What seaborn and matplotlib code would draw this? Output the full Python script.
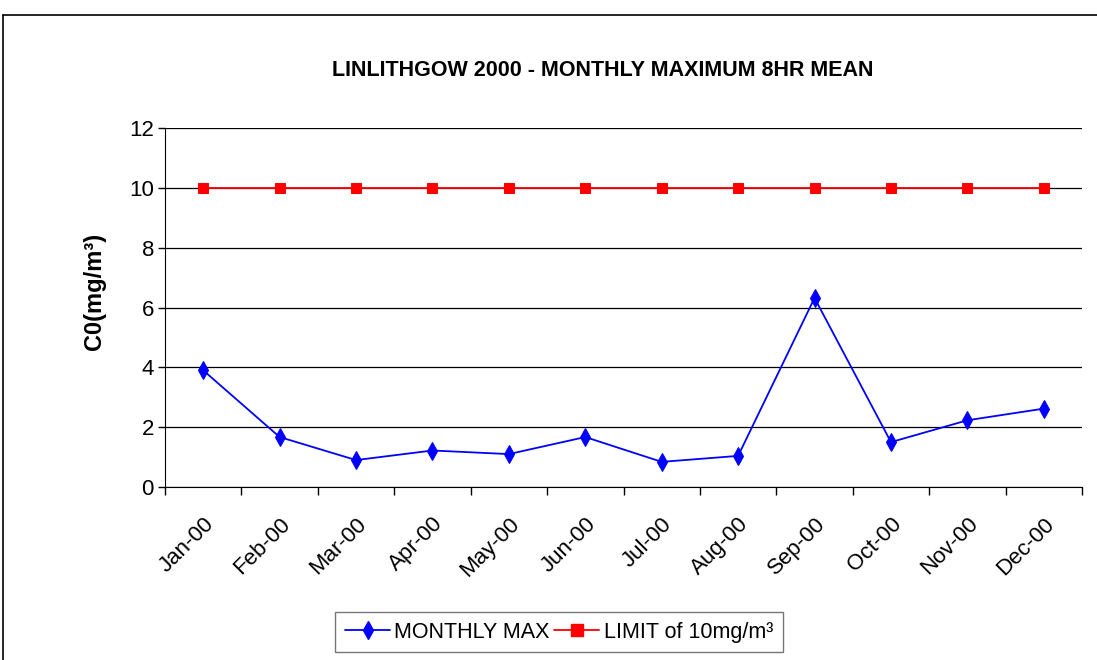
import pandas as pd
import seaborn as sns
import matplotlib.pyplot as plt
from matplotlib.lines import Line2D

months = ["Jan-00", "Feb-00", "Mar-00", "Apr-00", "May-00", "Jun-00",
          "Jul-00", "Aug-00", "Sep-00", "Oct-00", "Nov-00", "Dec-00"]
monthly_max = [3.9, 1.67, 0.9, 1.22, 1.1, 1.67, 0.84, 1.04, 6.32, 1.5, 2.23, 2.62]
limit = [10] * 12

sns.set_style("white")
plt.rcParams["font.family"] = ["Liberation Sans", "DejaVu Sans"]
for key in ["text.color", "axes.labelcolor", "xtick.color", "ytick.color"]:
    plt.rcParams[key] = "black"

df = pd.DataFrame({"month": months, "x": range(12),
                   "MONTHLY MAX": monthly_max, "LIMIT of 10mg/m³": limit})

fig = plt.figure(figsize=(10.97, 6.6), dpi=100)
ax = fig.add_axes([165 / 1097, 1 - 487 / 660, (1082 - 165) / 1097, (487 - 128) / 660])

sns.lineplot(data=df, x="x", y="MONTHLY MAX", ax=ax, color="#0000ff", lw=1.3,
             marker="d", markersize=9, markeredgecolor="#0000ff")
sns.lineplot(data=df, x="x", y="LIMIT of 10mg/m³", ax=ax, color="#ff0000", lw=1.3,
             marker="s", markersize=7, markeredgecolor="#ff0000")

ax.set_xlim(-0.5, 11.5)
ax.set_ylim(0, 12)
ax.set_yticks(range(0, 13, 2))
ax.tick_params(axis="y", labelsize=16, length=5, direction="out", left=True, width=1, pad=3)
ax.yaxis.grid(True, color="black", lw=0.9)
ax.set_axisbelow(True)

# category axis: ticks between months, labels centred on months
ax.set_xticks([i - 0.5 for i in range(13)])
ax.set_xticklabels([])
ax.set_xticks(range(12), minor=True)
ax.set_xticklabels(months, minor=True, rotation=45, ha="right",
                   rotation_mode="anchor", fontsize=16)
ax.tick_params(axis="x", which="major", length=6, bottom=True, width=1)
ax.tick_params(axis="x", which="minor", length=0, pad=19)

for side in ["top", "right"]:
    ax.spines[side].set_visible(False)
ax.spines["left"].set_color("black")
ax.spines["bottom"].set_color("black")

ax.set_xlabel("")
ax.set_ylabel("C0(mg/m³)", fontsize=17, fontweight="bold")
ax.yaxis.set_label_coords(-0.064, 0.546)

fig.text(603 / 1097, 1 - 70 / 660, "LINLITHGOW 2000 - MONTHLY MAXIMUM 8HR MEAN",
         ha="center", va="center", fontsize=15.5, fontweight="bold")

handles = [Line2D([], [], color="#0000ff", lw=1.3, marker="d", markersize=9),
           Line2D([], [], color="#ff0000", lw=1.3, marker="s", markersize=8)]
leg = fig.legend(handles, ["MONTHLY MAX", "LIMIT of 10mg/m³"], ncol=2,
                 loc="upper center", bbox_to_anchor=(559 / 1097, 1 - 612 / 660),
                 frameon=True, fancybox=False, edgecolor="#555555",
                 handlelength=2.1, handletextpad=0.2, columnspacing=0.2,
                 borderpad=0.45, borderaxespad=0, prop={"size": 15.5})
leg.get_frame().set_linewidth(1)

# outer chart border
fig.add_artist(Line2D([3 / 1097, 1.0], [1 - 15 / 660, 1 - 15 / 660], color="black", lw=1.2))
fig.add_artist(Line2D([3 / 1097, 3 / 1097], [0, 1 - 15 / 660], color="black", lw=1.2))

fig.savefig("out.png", dpi=100)
